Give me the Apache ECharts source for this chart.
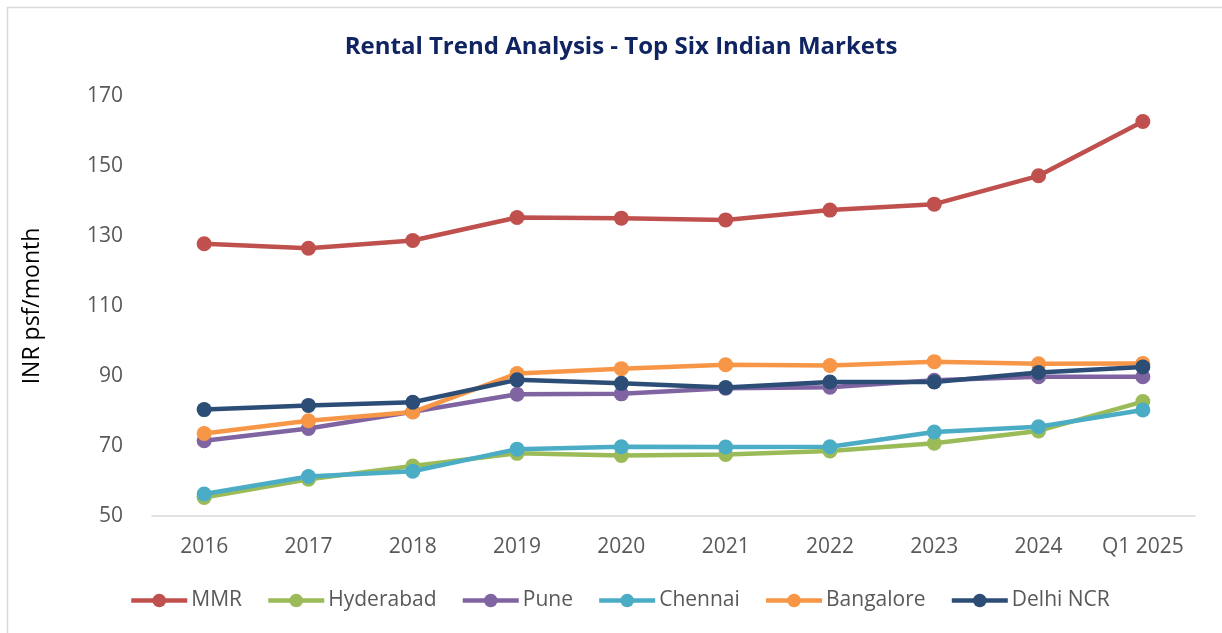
<!DOCTYPE html>
<html>
<head>
<meta charset="utf-8">
<script src="https://cdn.jsdelivr.net/npm/echarts@6/dist/echarts.min.js"></script>
<style>
  html, body { margin: 0; padding: 0; background: #fff; }
  #chart { width: 1222px; height: 633px; }
</style>
</head>
<body>
<div id="chart"></div>
<script>
// categories and values
const years = ['2016', '2017', '2018', '2019', '2020', '2021', '2022', '2023', '2024', 'Q1 2025'];
const mmr = [127.8, 126.5, 128.7, 135.3, 135.1, 134.6, 137.4, 139.1, 147.2, 162.7];
const hyderabad = [55.3, 60.5, 64.3, 67.9, 67.3, 67.6, 68.6, 70.8, 74.3, 82.7];
const pune = [71.5, 75.0, 79.8, 84.8, 84.9, 86.5, 86.8, 88.8, 89.8, 89.8];
const chennai = [56.3, 61.3, 62.8, 69.1, 69.8, 69.7, 69.8, 74.0, 75.5, 80.3];
const bangalore = [73.6, 77.2, 79.7, 90.7, 92.1, 93.2, 93.0, 94.1, 93.5, 93.6];
const delhiNcr = [80.4, 81.6, 82.5, 88.9, 87.9, 86.7, 88.3, 88.3, 91.0, 92.6];
const yTicks = { min: 50, max: 170, interval: 20 };

const names = ['MMR', 'Hyderabad', 'Pune', 'Chennai', 'Bangalore', 'Delhi NCR'];
const colors = ['#C0504D', '#9BBB59', '#8064A2', '#4BACC6', '#F79646', '#2C4D75'];
const values = [mmr, hyderabad, pune, chennai, bangalore, delhiNcr];

const font = '"Open Sans", "Noto Sans", sans-serif';
const chart = echarts.init(document.getElementById('chart'));

const option = {
    animation: false,
    backgroundColor: '#fff',
    graphic: [{
        type: 'rect',
        shape: { x: 7.5, y: 7.5, width: 1240, height: 650 },
        style: { fill: 'none', stroke: '#d9d9d9', lineWidth: 1.5 },
        silent: true
    }],
    title: {
        text: 'Rental Trend Analysis - Top Six Indian Markets',
        left: 616,
        textAlign: 'center',
        top: 30,
        textStyle: {
            fontFamily: font,
            fontSize: 24,
            fontWeight: 'bold',
            color: '#0F2460'
        }
    },
    legend: {
        data: names,
        bottom: 17,
        left: 124,
        itemWidth: 56,
        itemHeight: 17,
        itemGap: 24,
        lineStyle: { width: 4.5 },
        textStyle: {
            fontFamily: font,
            fontSize: 21,
            color: '#595959',
            padding: [0, 0, 0, -1]
        }
    },
    grid: {
        left: 152,
        right: 27,
        top: 96,
        bottom: 117,
        containLabel: false
    },
    xAxis: {
        type: 'category',
        data: years,
        boundaryGap: true,
        axisLine: { lineStyle: { color: '#d9d9d9', width: 1.5 } },
        axisTick: { show: false },
        axisLabel: {
            interval: 0,
            margin: 21,
            fontFamily: font,
            fontSize: 21,
            color: '#595959'
        }
    },
    yAxis: {
        type: 'value',
        min: yTicks.min,
        max: yTicks.max,
        interval: yTicks.interval,
        name: 'INR psf/month',
        nameLocation: 'middle',
        nameGap: 108,
        nameTextStyle: {
            fontFamily: font,
            fontSize: 23,
            color: '#000'
        },
        axisLine: { show: false },
        axisTick: { show: false },
        splitLine: { show: false },
        axisLabel: {
            margin: 29,
            fontFamily: font,
            fontSize: 21,
            color: '#595959'
        }
    },
    series: names.map(function (n, i) {
        return {
            name: n,
            type: 'line',
            data: values[i],
            color: colors[i],
            symbol: 'circle',
            symbolSize: 15,
            lineStyle: { width: 4.5 },
            itemStyle: { color: colors[i] }
        };
    })
};

chart.setOption(option);
</script>
</body>
</html>
